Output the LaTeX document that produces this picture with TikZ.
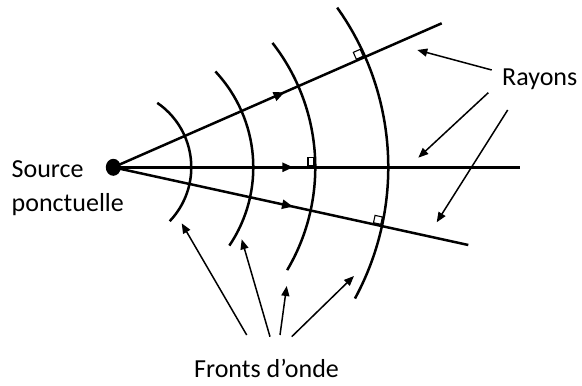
\documentclass[tikz,border=0pt]{standalone}
\usepackage{fontspec}
\setmainfont{Carlito}
\usetikzlibrary{arrows.meta,decorations.markings,shapes.geometric}
\tikzset{
  ray/.style={line width=2.5pt},
  front/.style={line width=2.5pt},
  pointer/.style={line width=1.5pt,-{Triangle[length=10pt,width=8pt]}},
  rightmark/.style={line width=1.1pt},
  lbl/.style={inner sep=0pt,anchor=base west,font=\fontsize{26}{31}\selectfont},
  midarrow/.style={postaction={decorate},decoration={markings,mark=at position #1 with {\arrow{Triangle[length=11pt,width=9pt]}}}}
}
\begin{document}
\begin{tikzpicture}[x=1pt,y=1pt]
\useasboundingbox (0,0) rectangle (582,386);
% source
\coordinate (S) at (113.3,218.7);
\coordinate (U) at (441.7,362.7);
\coordinate (M) at (520,218.7);
\coordinate (L) at (468.3,141);
% rays
\draw[ray,midarrow=187pt] (S) -- (U);
\draw[ray,midarrow=180pt] (S) -- (M);
\draw[ray,midarrow=184pt] (S) -- (L);
\node[ellipse,fill,inner sep=0pt,minimum width=15pt,minimum height=17pt] (src) at (S) {};
% wavefronts
\draw[front] (S) ++(55.7:78) arc[start angle=55.7,end angle=-43.7,radius=78];
\draw[front] (S) ++(43.2:140) arc[start angle=43.2,end angle=-34,radius=140];
\draw[front] (S) ++(38:202) arc[start angle=38,end angle=-30.6,radius=202];
\draw[front] (S) ++(35.5:275) arc[start angle=35.5,end angle=-28.5,radius=275];
% right angle marks
\begin{scope}[shift={(365.1,329.2)},rotate=23.7]
  \draw[rightmark] (-9,1.3) rectangle (-1.5,8.8);
\end{scope}
\begin{scope}[shift={(315,218.7)}]
  \draw[rightmark] (-7,1.3) rectangle (-1.2,9.5);
\end{scope}
\begin{scope}[shift={(382,160.1)},rotate=-12.3]
  \draw[rightmark] (-9,1.3) rectangle (-1.5,8.8);
\end{scope}
% labels
\node[lbl] (srcA) at (11.5,208.7) {Source};
\node[lbl] (srcB) at (11.5,174.3) {ponctuelle};
\node[lbl] (ray) at (502,300.5) {Rayons};
\node[lbl] (fro) at (194,8) {Fronts d’onde};
% pointer coordinates
\coordinate (r1s) at (491.7,316);   \coordinate (r1e) at (417.3,336);
\coordinate (r2s) at (488.3,293.3); \coordinate (r2e) at (418.3,228.3);
\coordinate (r3s) at (507.7,276);   \coordinate (r3e) at (436.7,163.7);
\coordinate (f1s) at (246.7,51);    \coordinate (f1e) at (181.7,162.7);
\coordinate (f2s) at (270,49.3);    \coordinate (f2e) at (241.7,146.7);
\coordinate (f3s) at (280,51);      \coordinate (f3e) at (286.7,100);
\coordinate (f4s) at (291.7,49.3);  \coordinate (f4e) at (354,110);
\draw[pointer] (r1s) -- (r1e);
\draw[pointer] (r2s) -- (r2e);
\draw[pointer] (r3s) -- (r3e);
\draw[pointer] (f1s) -- (f1e);
\draw[pointer] (f2s) -- (f2e);
\draw[pointer] (f3s) -- (f3e);
\draw[pointer] (f4s) -- (f4e);
\end{tikzpicture}
\end{document}
